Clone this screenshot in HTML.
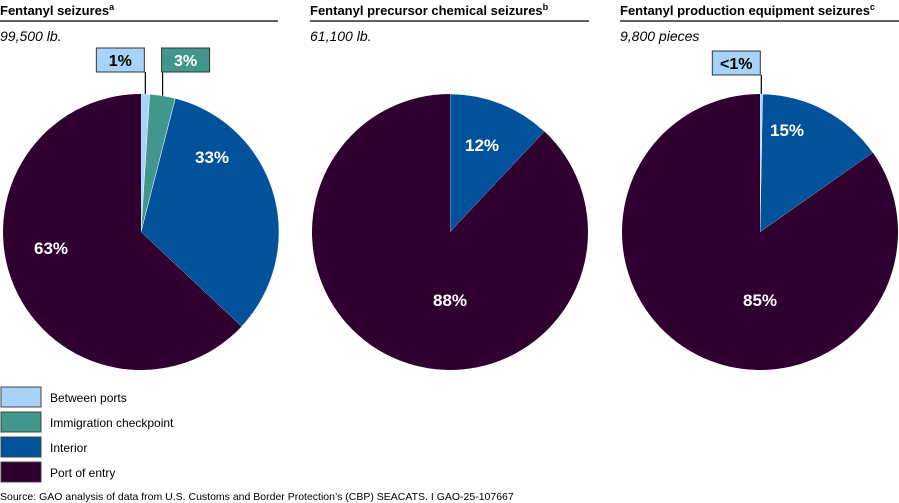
<!DOCTYPE html>
<html><head><meta charset="utf-8"><style>
body{margin:0;width:899px;height:503px;background:#fff;overflow:hidden;font-family:"Liberation Sans",Arial,sans-serif}
svg{position:absolute;left:0;top:0}
</style></head><body>
<svg width="899" height="503" id="c" font-family="Liberation Sans, Arial, sans-serif"></svg>
<script>
const panelTitles=["Fentanyl seizures","Fentanyl precursor chemical seizures","Fentanyl production equipment seizures"];
const panelNotes=["a","b","c"];
const panelTotals=["99,500 lb.","61,100 lb.","9,800 pieces"];
const categories=["Between ports","Immigration checkpoint","Interior","Port of entry"];
const colors=["#a6d3f7","#41978b","#02529b","#2f0030"];
const values1=[1,3,33,63];
const values2=[0,0,12,88];
const values3=[0.3,0,15,85];
const labels1=["1%","3%","33%","63%"];
const labels2=["","","12%","88%"];
const labels3=["<1%","","15%","85%"];
const allValues=[values1,values2,values3];
const allLabels=[labels1,labels2,labels3];
const NS="http://www.w3.org/2000/svg";
const svg=document.getElementById('c');
function mk(t,a,p){const e=document.createElementNS(NS,t);for(const k in a)e.setAttribute(k,a[k]);(p||svg).appendChild(e);return e;}
const panelX=[0,310,620],cxs=[141,450,760],cy=232,R=138;
// label placement offsets (layout only) relative to pie center
const labelOffsets=[[null,null,[71,-75],[-90,16]],[null,null,[32,-87],[0,68]],[null,null,[27,-102],[0,68]]];
function pt(cx,f,r){const a=f*2*Math.PI;return [cx+r*Math.sin(a),cy-r*Math.cos(a)];}
for(let p=0;p<3;p++){
  const g=mk('g',{});
  
  
  const t=mk('text',{x:panelX[p],y:15,'font-size':13,'font-weight':'bold',fill:'#000'},g);
  
  
  t.textContent=panelTitles[p];
  const sup=mk('tspan',{'font-size':9,dy:-5},t);sup.textContent=panelNotes[p];
  const ln=mk('line',{x1:panelX[p],x2:panelX[p]+(p==0?278:279),y1:21,y2:21,stroke:'#000','stroke-width':1.3},g);
  
  
  const st=mk('text',{x:panelX[p],y:41,'font-size':14,'font-style':'italic',fill:'#000'},g);
  
  
  st.textContent=panelTotals[p];
  const vals=allValues[p],labs=allLabels[p];
  const tot=vals.reduce((a,b)=>a+b,0);
  let cum=0;const cx=cxs[p];
  vals.forEach((v,i)=>{
    if(v<=0)return;
    const f0=cum/tot,f1=(cum+v)/tot;cum+=v;
    const a=pt(cx,f0,R),b=pt(cx,f1,R);
    const s=mk('path',{d:`M${cx},${cy}L${a[0]},${a[1]}A${R},${R} 0 ${f1-f0>0.5?1:0} 1 ${b[0]},${b[1]}Z`,fill:colors[i],stroke:colors[i]==colors[3]?'none':'#fff','stroke-width':0.5},g);
    
    
    const mid=(f0+f1)/2;
    if(v/tot>=0.05){
      const off=labelOffsets[p][i];
      const q=off?[cx+off[0],cy+off[1]]:pt(cx,mid,R*0.66);
      const tl=mk('text',{x:q[0],y:q[1]+6,'text-anchor':'middle','font-size':17,'font-weight':'bold',fill:'#fff'},g);
      
      
      tl.textContent=labs[i];
    }else if(labs[i]){
      const e=pt(cx,mid,R);
      const bw=48,bh=24;
      let bx=i==0?e[0]-bw-1:e[0]-1;const by=p==0?48:51;
      const l=mk('line',{x1:e[0],x2:e[0],y1:by+bh,y2:e[1],stroke:'#000','stroke-width':1.2},g);
      
      
      const r=mk('rect',{x:bx,y:by,width:bw,height:bh,fill:colors[i],stroke:'#333','stroke-width':1},g);
      
      
      const tl=mk('text',{x:bx+bw/2,y:by+18,'text-anchor':'middle','font-size':16,'font-weight':'bold',fill:i==0?'#000':'#fff'},g);
      
      
      tl.textContent=labs[i];
    }
  });
}
categories.forEach((c,i)=>{
  const y=387+i*25;
  const r=mk('rect',{x:1,y:y,width:40,height:20,fill:colors[i],stroke:'#444','stroke-width':1});
  
  
  const t=mk('text',{x:50,y:y+15,'font-size':12,fill:'#000'});
  
  
  t.textContent=c;
});
const src=mk('text',{x:0,y:500,'font-size':10.5,fill:'#000'});


src.textContent="Source: GAO analysis of data from U.S. Customs and Border Protection’s (CBP) SEACATS.  I  GAO-25-107667";
</script>
</body></html>
